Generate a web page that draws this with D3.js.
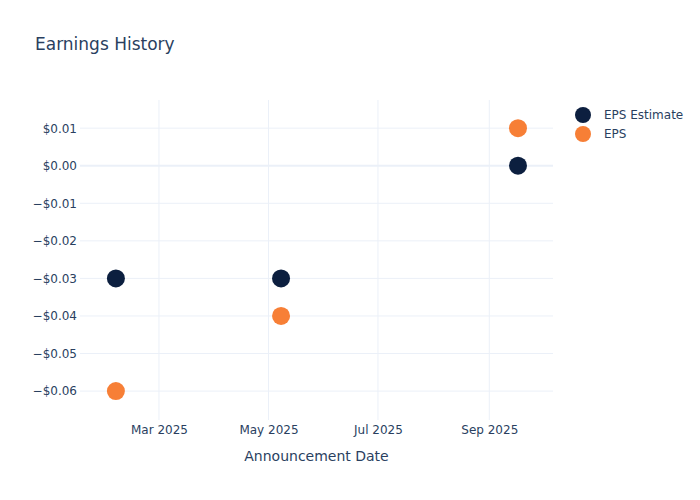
<!DOCTYPE html>
<html><head><meta charset="utf-8">
<script src="https://cdn.jsdelivr.net/npm/d3@7"></script>
<style>body{margin:0;background:#fff}svg{display:block}text{font-family:"DejaVu Sans",Verdana,sans-serif}</style>
</head><body><svg id="c" width="700" height="500"></svg>
<script>
const dates = ["2025-02-05", "2025-05-08", "2025-09-17"];
const epsEstimate = [-0.03, -0.03, 0.00];
const eps = [-0.06, -0.04, 0.01];
const seriesNames = ["EPS Estimate", "EPS"];
const seriesColors = ["#0c1f3f", "#f77f36"];
const yTicks = [0.01, 0.00, -0.01, -0.02, -0.03, -0.04, -0.05, -0.06];
const xTicks = ["2025-03-01", "2025-05-01", "2025-07-01", "2025-09-01"];
const xDomain = ["2025-01-16", "2025-10-06T12:00"];
const yDomain = [-0.0677, 0.0175];

const parse = s => new Date(s);
const svg = d3.select("#c");
const L = 80, R = 553, T = 100, B = 420;
const x = d3.scaleTime().domain(xDomain.map(parse)).range([L, R]);
const y = d3.scaleLinear().domain(yDomain).range([B, T]);
const fontCol = "#2a3f5f";
const grid = "#ebf0f8";

// grid
svg.append("g").selectAll("line").data(xTicks).join("line")
  .attr("x1", d => x(parse(d))).attr("x2", d => x(parse(d)))
  .attr("y1", T).attr("y2", B).attr("stroke", grid).attr("stroke-width", 1);
svg.append("g").selectAll("line").data(yTicks).join("line")
  .attr("x1", L).attr("x2", R)
  .attr("y1", d => y(d)).attr("y2", d => y(d))
  .attr("stroke", grid).attr("stroke-width", d => d === 0 ? 2 : 1);

// axes
const fmt = v => (v < -1e-9 ? "\u2212$" : "$") + Math.abs(v).toFixed(2);
const yAxis = d3.axisLeft(y).tickValues(yTicks).tickFormat(fmt).tickSize(0).tickPadding(3);
const ya = svg.append("g").attr("transform", `translate(${L},0)`).call(yAxis);
ya.select(".domain").remove();
ya.selectAll("text").attr("fill", fontCol).style("font-size", "12px");

const xAxis = d3.axisBottom(x).tickValues(xTicks.map(parse)).tickFormat(d3.timeFormat("%b %Y")).tickSize(0).tickPadding(5);
const xa = svg.append("g").attr("transform", `translate(0,${B})`).call(xAxis);
xa.select(".domain").remove();
xa.selectAll("text").attr("fill", fontCol).style("font-size", "12px");

// points
const series = [epsEstimate, eps];
series.forEach((vals, i) => {
  svg.append("g").selectAll("circle").data(vals).join("circle")
    .attr("cx", (d, j) => x(parse(dates[j]))).attr("cy", d => y(d))
    .attr("r", 9).attr("fill", seriesColors[i]);
});

// title
svg.append("text").attr("x", 35).attr("y", 50).text("Earnings History")
  .attr("fill", fontCol).style("font-size", "17px");
svg.append("text").attr("x", (L + R) / 2).attr("y", 461).attr("text-anchor", "middle")
  .text("Announcement Date").attr("fill", fontCol).style("font-size", "14px");

// legend
const lg = svg.append("g");
seriesNames.forEach((n, i) => {
  lg.append("circle").attr("cx", 583).attr("cy", 115 + i * 19).attr("r", 8).attr("fill", seriesColors[i]);
  lg.append("text").attr("x", 604).attr("y", 119 + i * 19).text(n).attr("fill", fontCol).style("font-size", "12px");
});
</script></body></html>
